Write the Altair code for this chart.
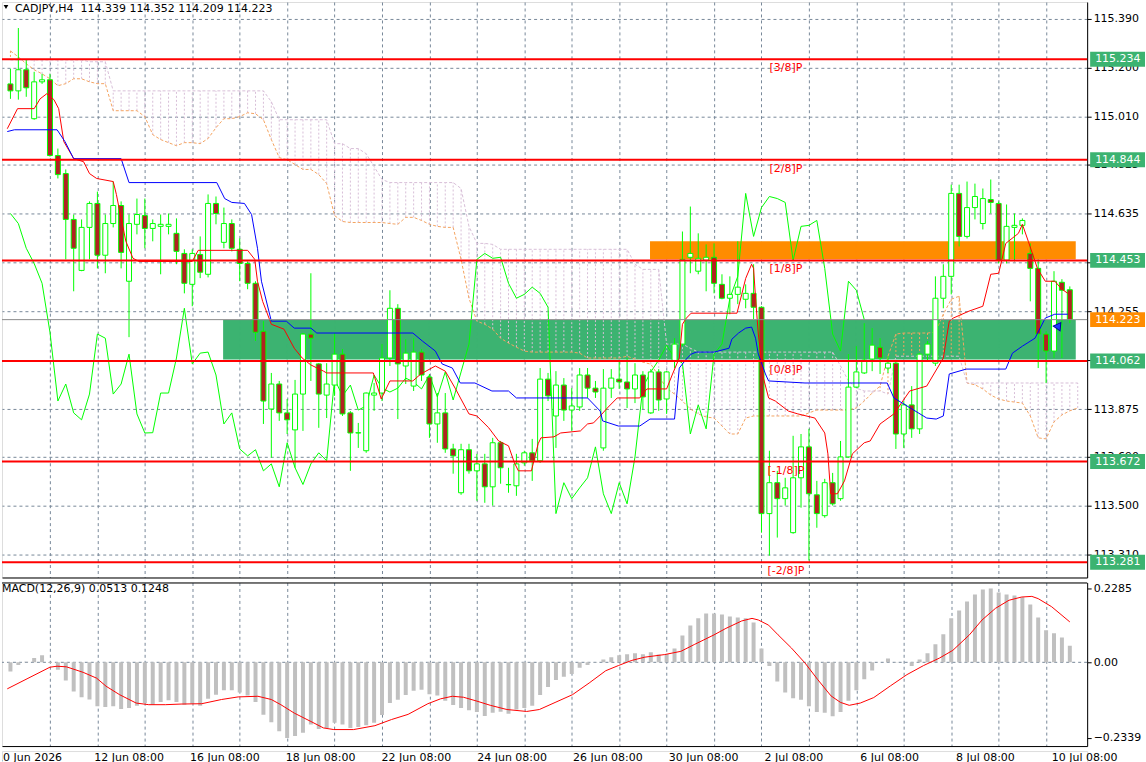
import altair as alt
import pandas as pd

# ---------------- candles (CADJPY H4) ----------------
open_ = [115.138, 115.111, 115.193, 115.003, 115.146, 115.154, 114.860, 114.790, 114.612, 114.414,
         114.581, 114.674, 114.473, 114.596, 114.666, 114.372, 114.593, 114.627, 114.577, 114.585,
         114.585, 114.558, 114.480, 114.360, 114.476, 114.399, 114.674, 114.523, 114.596, 114.496,
         114.441, 114.364, 114.178, 113.876, 113.973, 113.861, 113.795, 113.934, 114.167, 114.051,
         113.930, 113.969, 114.089, 113.861, 113.783, 113.714, 113.930, 113.938, 114.074, 114.267,
         114.043, 113.965, 114.097, 114.000, 113.818, 113.861, 113.721, 113.551, 113.718, 113.636,
         113.663, 113.574, 113.745, 113.582, 113.578, 113.667, 113.706, 113.675, 113.992, 113.849,
         113.969, 113.872, 113.884, 114.008, 113.957, 113.725, 113.957, 113.992, 113.981, 113.954,
         114.008, 113.861, 114.020, 113.915, 114.062, 114.128, 114.465, 114.411, 114.453, 114.465,
         114.360, 114.306, 114.321, 114.302, 114.325, 114.271, 113.470, 113.590, 113.528, 113.396,
         113.609, 113.729, 113.543, 113.462, 113.590, 113.528, 113.690, 113.961, 114.016, 114.070,
         114.116, 114.035, 114.054, 113.779, 113.892, 113.799, 114.089, 114.054, 114.306, 114.391,
         114.713, 114.546, 114.658, 114.596, 114.689, 114.674, 114.453, 114.581, 114.589, 114.480,
         114.422, 114.167, 114.101, 114.368, 114.339]
high = [115.197, 115.355, 115.231, 115.185, 115.177, 115.177, 114.887, 114.806, 114.631, 114.612,
        114.682, 114.720, 114.631, 114.759, 114.682, 114.631, 114.693, 114.693, 114.612, 114.631,
        114.635, 114.616, 114.496, 114.496, 114.546, 114.709, 114.701, 114.658, 114.612, 114.538,
        114.449, 114.372, 114.217, 114.016, 113.985, 113.915, 113.989, 114.171, 114.403, 114.054,
        114.054, 114.171, 114.109, 113.868, 113.822, 113.940, 113.977, 114.128, 114.337, 114.283,
        114.147, 114.151, 114.109, 114.012, 113.938, 113.938, 113.741, 113.741, 113.741, 113.702,
        113.702, 113.764, 113.752, 113.648, 113.702, 113.714, 113.760, 114.035, 114.016, 114.023,
        113.996, 113.957, 114.035, 114.035, 113.985, 114.031, 114.031, 114.062, 114.074, 114.054,
        114.023, 114.031, 114.031, 114.023, 114.151, 114.565, 114.662, 114.558, 114.515, 114.519,
        114.399, 114.391, 114.527, 114.360, 114.438, 114.275, 113.714, 113.636, 113.609, 113.772,
        113.779, 113.799, 113.597, 113.605, 113.628, 113.752, 114.089, 114.120, 114.209, 114.190,
        114.151, 114.081, 114.062, 113.907, 113.965, 114.093, 114.140, 114.391, 114.438, 114.747,
        114.747, 114.759, 114.751, 114.732, 114.767, 114.682, 114.670, 114.635, 114.616, 114.519,
        114.457, 114.178, 114.411, 114.380, 114.352]
low = [115.080, 115.077, 115.088, 114.999, 115.138, 114.856, 114.771, 114.457, 114.333, 114.411,
       114.457, 114.422, 114.403, 114.581, 114.422, 114.155, 114.554, 114.500, 114.527, 114.399,
       114.554, 114.438, 114.325, 114.275, 114.384, 114.387, 114.593, 114.500, 114.488, 114.372,
       114.341, 114.140, 113.818, 113.687, 113.830, 113.779, 113.648, 113.791, 113.985, 113.803,
       113.841, 113.927, 113.849, 113.636, 113.725, 113.706, 113.869, 113.907, 114.043, 113.837,
       113.973, 113.946, 113.985, 113.764, 113.745, 113.706, 113.625, 113.543, 113.625, 113.520,
       113.512, 113.501, 113.586, 113.551, 113.539, 113.656, 113.597, 113.667, 113.907, 113.725,
       113.830, 113.791, 113.869, 113.919, 113.919, 113.714, 113.919, 113.954, 113.880, 113.899,
       113.876, 113.857, 113.869, 113.857, 114.035, 114.120, 114.403, 114.399, 114.333, 114.325,
       114.302, 114.244, 114.283, 114.267, 114.225, 113.396, 113.307, 113.377, 113.501, 113.392,
       113.493, 113.288, 113.415, 113.454, 113.501, 113.520, 113.687, 113.957, 114.012, 114.023,
       114.012, 114.016, 113.721, 113.725, 113.764, 113.779, 114.062, 114.043, 114.267, 114.321,
       114.507, 114.538, 114.612, 114.573, 114.635, 114.441, 114.441, 114.449, 114.554, 114.294,
       114.035, 113.977, 114.074, 114.074, 114.209]
close = [115.111, 115.193, 115.123, 115.146, 115.154, 114.860, 114.786, 114.612, 114.500, 114.581,
         114.674, 114.473, 114.596, 114.666, 114.484, 114.596, 114.631, 114.577, 114.596, 114.593,
         114.593, 114.488, 114.364, 114.480, 114.407, 114.674, 114.635, 114.596, 114.500, 114.441,
         114.364, 114.174, 113.907, 113.973, 113.861, 113.834, 113.934, 114.167, 114.151, 113.934,
         113.973, 114.089, 113.857, 113.783, 113.784, 113.938, 113.938, 114.074, 114.267, 114.051,
         114.093, 114.097, 114.008, 113.818, 113.861, 113.721, 113.694, 113.718, 113.636, 113.663,
         113.574, 113.745, 113.648, 113.583, 113.663, 113.706, 113.675, 113.992, 113.927, 113.969,
         113.872, 113.888, 114.008, 113.957, 113.942, 113.957, 113.996, 113.981, 113.954, 114.008,
         113.923, 114.020, 113.911, 114.020, 114.128, 114.457, 114.480, 114.461, 114.465, 114.364,
         114.306, 114.321, 114.349, 114.325, 114.271, 113.470, 113.590, 113.528, 113.570, 113.609,
         113.729, 113.547, 113.470, 113.590, 113.508, 113.690, 113.961, 114.020, 114.066, 114.124,
         114.074, 114.054, 113.779, 113.892, 113.799, 114.089, 114.128, 114.306, 114.391, 114.713,
         114.546, 114.658, 114.701, 114.693, 114.678, 114.453, 114.585, 114.589, 114.608, 114.422,
         114.167, 114.101, 114.372, 114.337, 114.223]

# ---------------- Ichimoku ----------------
tenkan_i = [-0.4, 0.9, 3.0, 3.75, 4.6, 5.5, 6.1, 6.75, 8.0, 9.25, 10.0, 10.9, 13.0, 13.4, 13.75, 14.6, 15.5,
            16.25, 23.0, 23.75, 30.0, 30.9, 31.25, 31.9, 33.0, 34.6, 35.9, 36.9, 38.0, 39.6, 40.0, 45.9,
            46.9, 48.0, 50.9, 51.9, 53.75, 55.0, 56.25, 58.0, 59.0, 60.5, 61.75, 63.0, 63.75, 64.25, 65.9,
            66.75, 67.1, 68.75, 69.6, 72.1, 73.0, 73.75, 74.6, 75.5, 76.75, 79.6, 80.5, 83.0, 83.75, 84.6,
            85.0, 85.5, 86.1, 91.9, 92.5, 93.0, 93.75, 94.0, 94.25, 94.6, 94.9, 95.25, 95.9, 96.75, 98.4,
            99.6, 101.75, 103.0, 103.4, 103.75, 104.6, 105.5, 106.5, 108.0, 108.75, 110.0, 111.75, 113.75,
            115.9, 118.0, 118.75, 119.25, 121.25, 123.0, 124.0, 125.0, 125.9, 127.5, 128.0, 128.75, 129.9,
            130.9, 132.1, 133.0, 133.75]
tenkan_v = [114.964, 115.042, 115.042, 115.080, 115.100, 115.077, 115.042, 114.914, 114.848, 114.836,
            114.790, 114.771, 114.759, 114.709, 114.654, 114.527, 114.461, 114.449, 114.449, 114.492,
            114.492, 114.457, 114.372, 114.294, 114.205, 114.186, 114.112, 114.074, 114.047, 114.023,
            114.016, 114.016, 113.915, 113.985, 113.985, 114.012, 114.043, 114.023, 113.957, 113.857,
            113.849, 113.803, 113.752, 113.733, 113.667, 113.636, 113.636, 113.741, 113.764, 113.768,
            113.783, 113.791, 113.818, 113.822, 113.849, 113.880, 113.919, 113.919, 113.954, 113.954,
            114.012, 114.074, 114.205, 114.229, 114.248, 114.248, 114.321, 114.383, 114.438, 114.422,
            114.306, 114.167, 114.089, 113.996, 113.919, 113.907, 113.868, 113.857, 113.841, 113.783,
            113.702, 113.547, 113.547, 113.597, 113.702, 113.745, 113.752, 113.818, 113.857, 113.946,
            113.965, 114.074, 114.217, 114.229, 114.256, 114.275, 114.399, 114.403, 114.519, 114.558,
            114.593, 114.527, 114.422, 114.372, 114.372, 114.341, 114.325]
kijun_i = [-0.4, 0.5, 5.9, 6.9, 8.0, 14.0, 15.0, 26.1, 27.1, 28.0, 29.6, 30.5, 31.25, 31.75, 33.0, 34.9,
           35.9, 38.0, 38.75, 50.9, 52.1, 53.75, 54.6, 55.9, 56.9, 58.75, 60.9, 63.0, 64.0, 73.0, 74.6,
           74.9, 76.9, 79.6, 80.9, 84.0, 84.6, 85.5, 86.1, 86.75, 89.0, 90.9, 91.25, 92.1, 93.0, 93.75,
           94.25, 94.6, 95.5, 95.9, 100.5, 110.9, 111.75, 113.4, 115.9, 117.1, 118.0, 118.75, 120.9,
           125.9, 126.75, 128.0, 129.6, 130.9, 132.1, 133.75]
kijun_v = [114.953, 114.960, 114.960, 114.914, 114.848, 114.848, 114.755, 114.755, 114.693, 114.678,
           114.674, 114.631, 114.500, 114.372, 114.217, 114.217, 114.190, 114.190, 114.171, 114.171,
           114.140, 114.101, 114.051, 114.035, 113.977, 113.977, 113.946, 113.946, 113.919, 113.919,
           113.868, 113.830, 113.810, 113.810, 113.837, 113.837, 114.035, 114.070, 114.089, 114.097,
           114.097, 114.112, 114.147, 114.171, 114.190, 114.194, 114.151, 114.089, 114.012, 113.985,
           113.977, 113.977, 113.919, 113.888, 113.841, 113.837, 113.849, 114.012, 114.031, 114.031,
           114.093, 114.120, 114.151, 114.229, 114.244, 114.244]
span_a = [115.266, 115.243, 115.216, 115.193, 115.177, 115.158, 115.131, 115.139, 115.158, 115.158,
          115.146, 115.139, 115.139, 115.034, 115.034, 115.034, 115.034, 115.011, 114.941, 114.922,
          114.910, 114.898, 114.910, 114.910, 114.906, 114.926, 114.968, 115.003, 115.003, 115.011,
          115.026, 115.022, 114.999, 114.922, 114.852, 114.844, 114.825, 114.806, 114.806, 114.786,
          114.751, 114.627, 114.604, 114.600, 114.600, 114.600, 114.600, 114.600, 114.596, 114.593,
          114.620, 114.620, 114.608, 114.593, 114.585, 114.581, 114.581, 114.457, 114.306, 114.217,
          114.205, 114.186, 114.151, 114.132, 114.116, 114.101, 114.097, 114.097, 114.097, 114.097,
          114.097, 114.097, 114.093, 114.074, 114.074, 114.074, 114.074, 114.074, 114.081, 114.070,
          114.058, 114.050, 114.004, 113.957, 113.934, 113.907, 113.876, 113.857, 113.845, 113.841,
          113.810, 113.779, 113.779, 113.841, 113.849, 113.849, 113.849, 113.849, 113.849, 113.849,
          113.849, 113.861, 113.872, 113.872, 113.872, 113.872, 113.872, 113.880, 113.907, 113.938,
          113.965, 114.081, 114.167, 114.171, 114.171, 114.171, 114.171, 114.174, 114.244, 114.302,
          114.314, 113.977, 113.970, 113.954, 113.930, 113.915, 113.907, 113.903, 113.899, 113.849,
          113.764, 113.760, 113.826, 113.853, 113.869, 113.880]
span_b = ([115.231] * 10 + [115.224] * 3 + [115.111] * 20 + [115.069] + [114.999] * 7
          + [114.906] * 2 + [114.887] * 2 + [114.867, 114.817, 114.767] + [114.755] * 9
          + [114.732, 114.585, 114.519, 114.519, 114.515] + [114.496] * 17
          + [114.438, 114.418, 114.418, 114.418, 114.128, 114.128, 114.128, 114.112] + [114.097] * 18
          + [114.043, 113.985, 113.957, 113.946, 113.946, 113.946, 113.934] + [114.081] * 9
          + [113.977] * 15)

# ---------------- MACD ----------------
macd_hist = [-0.028, -0.008, 0.002, 0.013, 0.022, -0.002, -0.023, -0.056, -0.090, -0.108,
             -0.115, -0.136, -0.138, -0.136, -0.144, -0.141, -0.134, -0.126, -0.131, -0.123,
             -0.117, -0.123, -0.131, -0.128, -0.134, -0.113, -0.100, -0.086, -0.086, -0.093,
             -0.103, -0.123, -0.162, -0.185, -0.213, -0.2339, -0.228, -0.218, -0.192, -0.206,
             -0.203, -0.187, -0.192, -0.203, -0.200, -0.195, -0.187, -0.163, -0.126, -0.116,
             -0.101, -0.088, -0.085, -0.099, -0.103, -0.119, -0.132, -0.141, -0.148, -0.154,
             -0.166, -0.156, -0.153, -0.159, -0.146, -0.141, -0.134, -0.101, -0.076, -0.055,
             -0.045, -0.036, -0.017, -0.008, 0.001, 0.009, 0.016, 0.022, 0.025, 0.028,
             0.025, 0.031, 0.024, 0.026, 0.043, 0.083, 0.114, 0.136, 0.151, 0.151,
             0.148, 0.142, 0.139, 0.136, 0.123, 0.043, -0.011, -0.059, -0.093, -0.111,
             -0.116, -0.136, -0.154, -0.156, -0.167, -0.154, -0.119, -0.086, -0.052, -0.025,
             0.000, 0.012, 0.001, 0.000, -0.011, 0.009, 0.028, 0.056, 0.087, 0.136,
             0.160, 0.188, 0.210, 0.225, 0.2285, 0.216, 0.210, 0.207, 0.201, 0.179,
             0.139, 0.099, 0.090, 0.077, 0.0513]
signal_i = [-0.4, 2.1, 5.0, 5.9, 7.1, 9.2, 10.9, 12.1, 13.8, 15.9, 17.5, 19.6, 21.7, 24.2, 26.7, 28.8,
            31.3, 33.0, 34.2, 35.9, 38.0, 39.6, 40.9, 43.4, 46.1, 48.2, 50.3, 52.8, 54.4, 55.9, 57.3,
            59.0, 60.7, 62.8, 65.3, 66.9, 69.0, 71.1, 73.2, 75.3, 76.9, 78.6, 80.25, 82.75, 84.8, 86.5,
            89.0, 90.5, 92.5, 93.8, 94.6, 95.9, 97.1, 98.8, 100.5, 102.1, 103.8, 105.0, 106.1, 107.5,
            109.2, 111.3, 113.4, 115.5, 117.5, 119.2, 121.3, 122.9, 124.6, 126.3, 127.9, 129.2, 130.0,
            131.7, 134.0]
signal_v = [-0.082, -0.051, -0.015, -0.012, -0.014, -0.031, -0.049, -0.074, -0.100, -0.126, -0.131,
            -0.131, -0.129, -0.128, -0.115, -0.107, -0.105, -0.115, -0.131, -0.157, -0.183, -0.203,
            -0.208, -0.208, -0.196, -0.177, -0.161, -0.128, -0.113, -0.105, -0.108, -0.120, -0.133,
            -0.146, -0.152, -0.146, -0.123, -0.100, -0.064, -0.026, -0.010, 0.006, 0.016, 0.024, 0.034,
            0.055, 0.085, 0.105, 0.128, 0.136, 0.131, 0.115, 0.085, 0.044, -0.002, -0.053, -0.104,
            -0.124, -0.133, -0.126, -0.109, -0.073, -0.038, -0.010, 0.013, 0.037, 0.085, 0.131, 0.167,
            0.192, 0.202, 0.204, 0.197, 0.172, 0.125]

# ---------------- levels, zones, labels ----------------
murrey_levels = [115.234, 114.844, 114.453, 114.062, 113.672, 113.281]
murrey_names = ["[3/8]P", "[2/8]P", "[1/8]P", "[0/8]P", "[-1/8]P", "[-2/8]P"]
bid_price = 114.223
arrow_i = [132.6]
arrow_v = [114.200]
price_ticks = [115.390, 115.200, 115.010, 114.825, 114.635, 114.445, 114.255, 114.065,
               113.875, 113.690, 113.500, 113.310]
zones = [  # start bar, end bar, low price, high price, colour name
    {"i0": 26.9, "i1": 134.75, "lo": 114.068, "hi": 114.222, "c": "green"},
    {"i0": 80.9, "i1": 134.75, "lo": 114.457, "hi": 114.527, "c": "orange"},
]
grid_i = [5, 11, 17, 23, 29, 35, 41, 47, 53, 59, 65, 71, 77, 83, 89, 95, 101, 107, 113, 119, 125, 131]
time_label_i = [-1.3, 11, 23, 35, 47, 59, 71, 83, 95, 107, 119, 131]
time_labels = ["10 Jun 2026", "12 Jun 08:00", "16 Jun 08:00", "18 Jun 08:00", "22 Jun 08:00",
               "24 Jun 08:00", "26 Jun 08:00", "30 Jun 08:00", "2 Jul 08:00", "6 Jul 08:00",
               "8 Jul 08:00", "10 Jul 08:00"]
title_text = "CADJPY,H4\u00a0\u00a0114.339 114.352 114.209 114.223"
macd_title = "MACD(12,26,9) 0.0513 0.1248"
macd_ticks = [0.2285, 0.0, -0.2339]

# ---------------- build ----------------
FONT = "DejaVu Sans"
GRID = "#778899"
W, H_MAIN, H_MACD = 1088, 577, 164
XDOM = [-0.4375, 135.5625]
PDOM = [113.222, 115.456]
MDOM = [-0.259, 0.247]

n = len(close)
bars = pd.DataFrame({"i": list(range(n)), "open": open_, "high": high, "low": low, "close": close})
bars["dir"] = ["up" if c >= o else "down" for o, c in zip(open_, close)]
cloud = pd.DataFrame({"i": list(range(len(span_a))), "a": span_a, "b": span_b})
chikou = pd.DataFrame({"i": list(range(n - 26)), "v": close[26:]})
tenkan = pd.DataFrame({"i": tenkan_i, "v": tenkan_v})
kijun = pd.DataFrame({"i": kijun_i, "v": kijun_v})
murrey = pd.DataFrame({"v": murrey_levels, "name": murrey_names})
zone_df = pd.DataFrame(zones)
gold_rows = []
for z in zones:
    for g in grid_i:
        if z["i0"] <= g <= z["i1"]:
            gold_rows.append({"i": g, "lo": z["lo"], "hi": z["hi"], "c": z["c"]})
gold = pd.DataFrame(gold_rows)
box_df = pd.DataFrame({"v": murrey_levels + [bid_price],
                       "kind": ["level"] * len(murrey_levels) + ["bid"]})
box_df["label"] = [f"{v:.3f}" for v in box_df["v"]]
arrow_df = pd.DataFrame({"i": arrow_i, "v": arrow_v})

xs = alt.Scale(domain=XDOM, nice=False, zero=False)
ys = alt.Scale(domain=PDOM, nice=False, zero=False)
x_axis = alt.Axis(values=grid_i, grid=True, gridDash=[3, 3], gridColor=GRID, labels=False, ticks=False,
                  domain=True, domainColor="black", title=None, orient="bottom")
y_axis = alt.Axis(orient="right", values=price_ticks, format=".3f", grid=True, gridDash=[3, 3],
                  gridColor=GRID, tickSize=4, tickColor="black", domainColor="black", labelColor="black",
                  labelFont=FONT, labelFontSize=11, labelPadding=2, title=None)


def X(field="i"):
    return alt.X(f"{field}:Q", scale=xs, axis=x_axis, title=None)


def Y(field):
    return alt.Y(f"{field}:Q", scale=ys, axis=y_axis, title=None)


zone_rect = alt.Chart(zone_df).mark_rect(clip=True).encode(
    x=X("i0"), x2="i1:Q", y=Y("lo"), y2="hi:Q",
    color=alt.Color("c:N", scale=alt.Scale(domain=["green", "orange"], range=["#3CB371", "#FF8C00"]),
                    legend=None))
gold_grid = alt.Chart(gold).mark_rule(strokeDash=[3, 3], strokeWidth=1, clip=True).encode(
    x=X(), y=Y("lo"), y2="hi:Q",
    color=alt.Color("c:N", scale=alt.Scale(domain=["green", "orange"], range=["#C8B03A", "#F5E03A"]),
                    legend=None))
hatch = alt.Chart(cloud).mark_rule(strokeDash=[2, 2], strokeWidth=1, clip=True).encode(
    x=X(), y=Y("a"), y2="b:Q",
    color=alt.condition("datum.a > datum.b", alt.value("#F4A460"), alt.value("#D8BFD8")))
line_a = alt.Chart(cloud).mark_line(strokeDash=[3, 2], strokeWidth=1, color="#F4A460", clip=True).encode(
    x=X(), y=Y("a"))
line_b = alt.Chart(cloud).mark_line(strokeDash=[3, 2], strokeWidth=1, color="#D8BFD8", clip=True).encode(
    x=X(), y=Y("b"))
chikou_line = alt.Chart(chikou).mark_line(color="#00FF00", strokeWidth=1, clip=True).encode(x=X(), y=Y("v"))
wick = alt.Chart(bars).mark_rule(color="#00FF00", strokeWidth=1, clip=True).encode(
    x=X(), y=Y("low"), y2="high:Q")
body = alt.Chart(bars).mark_bar(width=5, stroke="#00FF00", strokeWidth=1, clip=True).encode(
    x=X(), y=Y("open"), y2="close:Q",
    fill=alt.Fill("dir:N", scale=alt.Scale(domain=["up", "down"], range=["#FFFFFF", "#B22222"]),
                  legend=None))
tenkan_line = alt.Chart(tenkan).mark_line(color="#FF0000", strokeWidth=1, clip=True).encode(x=X(), y=Y("v"))
kijun_line = alt.Chart(kijun).mark_line(color="#0000FF", strokeWidth=1, clip=True).encode(x=X(), y=Y("v"))
arrow = alt.Chart(arrow_df).mark_point(shape="triangle-up", angle=35, filled=True, color="#1E3CFF",
                                       stroke="#0000A0", strokeWidth=1, size=70, opacity=1).encode(
    x=X(), y=Y("v"))
bid_line = alt.Chart(pd.DataFrame({"v": [bid_price]})).mark_rule(color="#8C8C8C", strokeWidth=1).encode(
    y=Y("v"))
murrey_lines = alt.Chart(murrey).mark_rule(color="#FF0000", strokeWidth=2).encode(y=Y("v"))
murrey_text = alt.Chart(murrey).mark_text(color="#FF0000", font=FONT, fontSize=11, align="center",
                                          baseline="middle", dy=9, clip=True).encode(
    x=alt.value(786), y=Y("v"), text="name:N")
title_mark = alt.Chart(pd.DataFrame({"t": [title_text]})).mark_text(
    align="left", baseline="middle", font=FONT, fontSize=11, color="black").encode(
    x=alt.value(13), y=alt.value(7), text="t:N")
tri = alt.Chart(pd.DataFrame({"t": [1]})).mark_point(shape="triangle-down", filled=True, color="black",
                                                       size=22, opacity=1).encode(
    x=alt.value(4), y=alt.value(5))
boxes = alt.Chart(box_df).mark_tick(orient="horizontal", size=55, thickness=15, opacity=1).encode(
    x=alt.value(1118.5), y=Y("v"),
    color=alt.Color("kind:N", scale=alt.Scale(domain=["level", "bid"], range=["#FF0000", "#000000"]),
                    legend=None))
box_text = alt.Chart(box_df).mark_text(align="left", baseline="middle", font=FONT, fontSize=11,
                                       color="white").encode(
    x=alt.value(1096), y=Y("v"), text="label:N")

main = alt.layer(zone_rect, gold_grid, hatch, line_a, line_b, chikou_line, wick, body, tenkan_line,
                 kijun_line, arrow, bid_line, murrey_lines, murrey_text, title_mark, tri, boxes, box_text
                 ).properties(width=W, height=H_MAIN)

# MACD panel
ms = alt.Scale(domain=MDOM, nice=False, zero=False)
m_axis = alt.Axis(orient="right", values=macd_ticks, grid=False, tickSize=4, tickColor="black",
                  domainColor="black", labelColor="black", labelFont=FONT, labelFontSize=11, labelPadding=2,
                  labelExpr="datum.value == 0 ? '0.00' : format(datum.value, '.4f')", title=None)
mx_axis = alt.Axis(values=grid_i, grid=True, gridDash=[3, 3], gridColor=GRID, labels=False, ticks=False,
                   domain=True, domainColor="black", title=None, orient="bottom")
macd_df = pd.DataFrame({"i": list(range(n)), "m": macd_hist})
sig_df = pd.DataFrame({"i": signal_i, "m": signal_v})
hist = alt.Chart(macd_df).mark_bar(width=4, color="#C0C0C0", clip=True).encode(
    x=alt.X("i:Q", scale=xs, axis=mx_axis, title=None),
    y=alt.Y("m:Q", scale=ms, axis=m_axis, title=None), y2=alt.datum(0))
sig = alt.Chart(sig_df).mark_line(color="#FF0000", strokeWidth=1, clip=True).encode(
    x=alt.X("i:Q", scale=xs, axis=mx_axis, title=None),
    y=alt.Y("m:Q", scale=ms, axis=m_axis, title=None))
zero = alt.Chart(pd.DataFrame({"m": [0.0]})).mark_rule(strokeDash=[3, 3], color=GRID).encode(
    y=alt.Y("m:Q", scale=ms, axis=m_axis, title=None))
top_border = alt.Chart(pd.DataFrame({"m": [0]})).mark_rule(color="black", strokeWidth=1).encode(
    y=alt.value(0.5))
macd_label = alt.Chart(pd.DataFrame({"t": [macd_title]})).mark_text(
    align="left", baseline="middle", font=FONT, fontSize=11, color="black").encode(
    x=alt.value(0), y=alt.value(7), text="t:N")
macd = alt.layer(zero, hist, sig, top_border, macd_label).properties(width=W, height=H_MACD)

# time axis strip: the first (partly off-screen) label is clipped at the left edge,
# the others may run past the plot's right edge as in the reference
tl = pd.DataFrame({"i": time_label_i, "t": time_labels})
tl_first = tl.iloc[:1]
tl_rest = tl.iloc[1:]
strip_first = alt.Chart(tl_first).mark_text(align="left", baseline="alphabetic", font=FONT, fontSize=11,
                                            color="black", dx=1, clip=True).encode(
    x=alt.X("i:Q", scale=xs, axis=None), y=alt.value(10), text="t:N")
strip_rest = alt.Chart(tl_rest).mark_text(align="left", baseline="alphabetic", font=FONT, fontSize=11,
                                          color="black", dx=1).encode(
    x=alt.X("i:Q", scale=xs, axis=None), y=alt.value(10), text="t:N")
strip = alt.layer(strip_first, strip_rest).properties(width=W, height=14)

chart = alt.vconcat(main, macd, strip, spacing=3).properties(
    padding=0, background="white"
).configure_view(stroke=None).configure(font=FONT)

chart.save("out.html", embed_options={"renderer": "svg", "actions": False})
